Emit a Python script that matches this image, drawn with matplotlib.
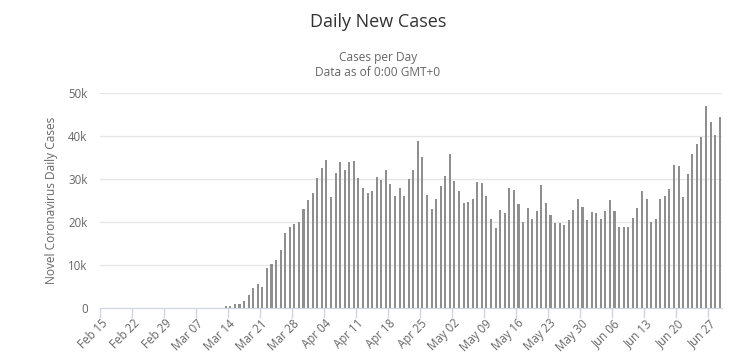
import matplotlib
matplotlib.use("Agg")
import matplotlib.pyplot as plt
import matplotlib.transforms as mtransforms
import pandas as pd

# ---- data ----
dates = pd.date_range("2020-02-15", "2020-06-29", freq="D")
categories = [d.strftime("%b %d") for d in dates]

early_cases = [0, 0, 0, 0, 0, 0, 0, 0, 0, 0, 0, 0, 0, 0, 0,
               0, 0, 0, 0, 0, 0, 0, 0, 0, 0, 0, 0, 300]
later_cases = [
    500, 800, 800, 1500, 3000, 4600, 5500, 4900, 9300, 10200,
    11100, 13400, 17400, 18900, 19500, 20100, 23000, 25200, 26700, 30300,
    32600, 34500, 25700, 31500, 33900, 32200, 33900, 34100, 30300, 27800,
    26800, 27300, 30500, 29800, 32100, 28800, 26000, 27900, 26000, 29900,
    32000, 38900, 35100, 26300, 23100, 25400, 28400, 30700, 35800, 29600,
    27200, 24500, 24600, 25400, 29300, 29000, 26000, 20600, 18700, 22800,
    22200, 27900, 27400, 24200, 20000, 23300, 20600, 22600, 28600, 24400,
    21600, 19700, 19700, 19300, 20500, 22800, 25400, 23500, 20500, 22300,
    22000, 20700, 22500, 25100, 22600, 18800, 18800, 18800, 20900, 23300,
    27200, 25300, 20000, 20700, 25300, 26000, 27700, 33300, 33000, 25800,
    31200, 35800, 38200, 39800, 47000, 43300, 40300, 44500,
]
daily_cases = early_cases + later_cases

y_ticks = [0, 10000, 20000, 30000, 40000, 50000]
y_tick_labels = ["0", "10k", "20k", "30k", "40k", "50k"]

title = "Daily New Cases"
subtitle = ["Cases per Day", "Data as of 0:00 GMT+0"]
y_title = "Novel Coronavirus Daily Cases"

# ---- figure ----
plt.rcParams["font.family"] = ["Open Sans", "DejaVu Sans"]
W, H = 736, 360
fig = plt.figure(figsize=(W / 100, H / 100), dpi=100)
left, right, top, bottom = 100, 722, 93.3, 307.7
ax = fig.add_axes([left / W, 1 - bottom / H, (right - left) / W, (bottom - top) / H])

x = list(range(len(categories)))
ax.bar(x, daily_cases, width=0.45, color="#8f8f8f", zorder=3, linewidth=0)

ax.set_xlim(-0.5, len(categories) - 0.5)
ax.set_ylim(0, 50000)

ax.set_yticks(y_ticks)
ax.set_yticklabels(y_tick_labels, fontsize=8.3, color="#666666")
ax.tick_params(axis="y", length=0, pad=9)
ax.grid(axis="y", color="#e6e6e6", linewidth=1, zorder=0)

label_idx = list(range(0, len(categories), 7))
ax.set_xticks(label_idx)
ax.set_xticklabels([categories[i] for i in label_idx], rotation=45,
                   ha="right", va="center", rotation_mode="anchor",
                   fontsize=8.3, color="#666666")
ax.tick_params(axis="x", which="major", length=0, pad=10)
offset = mtransforms.ScaledTranslation(3 / 100, 0, fig.dpi_scale_trans)
for lbl in ax.get_xticklabels():
    lbl.set_transform(lbl.get_transform() + offset)
ax.set_xticks([i - 0.5 for i in label_idx], minor=True)
ax.tick_params(axis="x", which="minor", length=7, color="#ccd6eb", width=1)

for s in ["top", "right", "left"]:
    ax.spines[s].set_visible(False)
ax.spines["bottom"].set_color("#ccd6eb")
ax.spines["bottom"].set_zorder(4)

fig.text(52 / W, 1 - 200 / H, y_title, rotation=90, ha="center", va="center",
         fontsize=8.6, color="#666666")
fig.text(378 / W, 1 - 22 / H, title, ha="center", va="center",
         fontsize=13, color="#333333")
fig.text(378 / W, 1 - 57 / H, subtitle[0], ha="center", va="center",
         fontsize=8.6, color="#666666")
fig.text(378 / W, 1 - 72 / H, subtitle[1], ha="center", va="center",
         fontsize=8.6, color="#666666")

fig.savefig("out.png", dpi=100, facecolor="white")
